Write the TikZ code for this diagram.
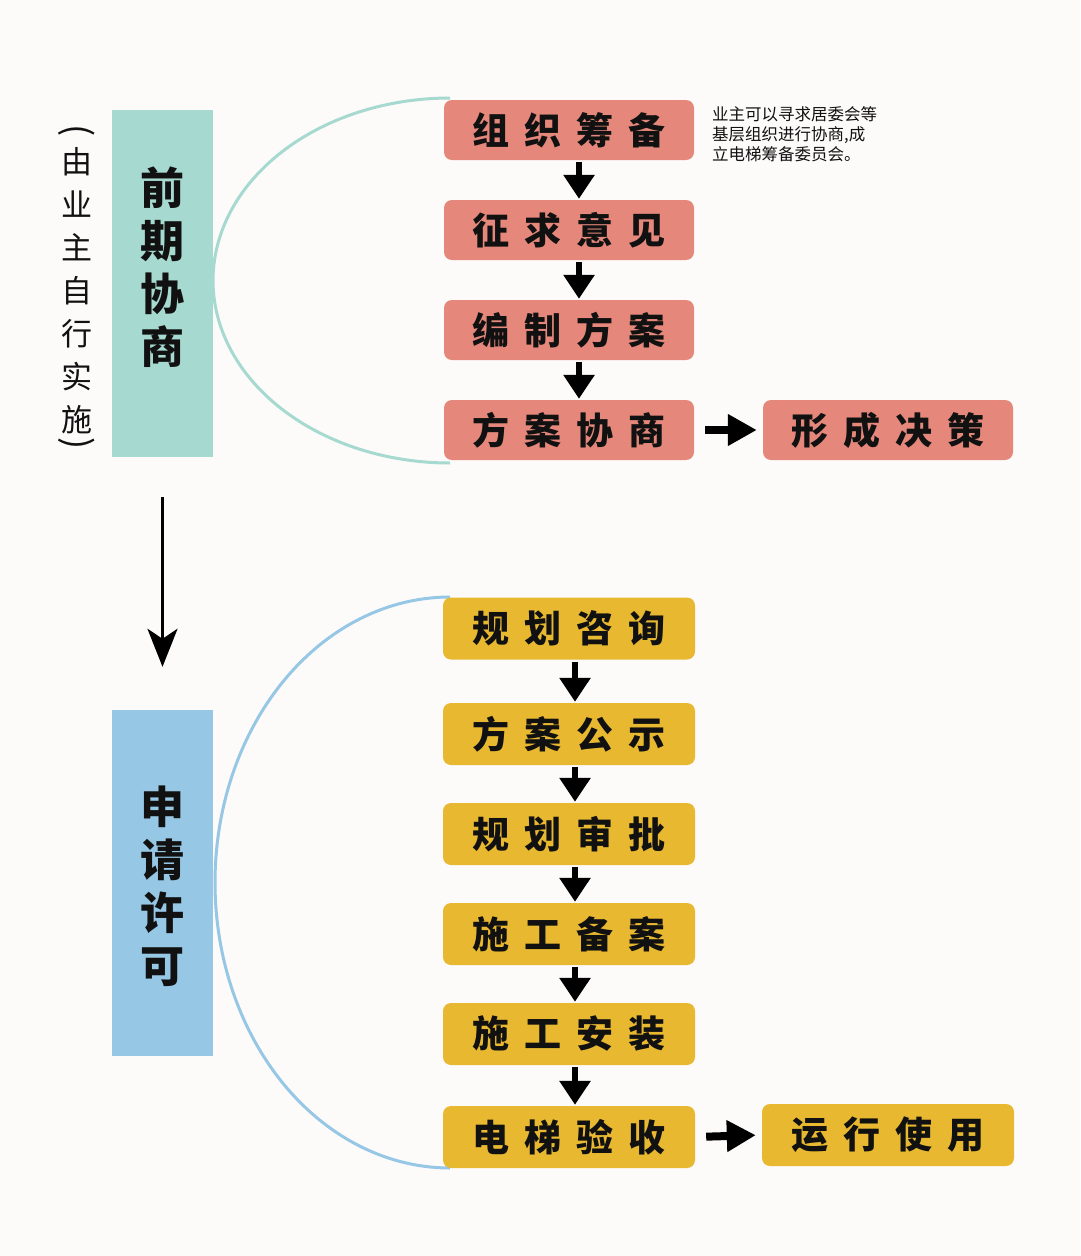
\documentclass[tikz,border=0pt]{standalone}
\usepackage{fontspec}
\setmainfont{Noto Sans CJK SC}
\usetikzlibrary{arrows.meta}
\definecolor{bgc}{HTML}{FDFAFA}
\definecolor{redbox}{HTML}{E5887B}
\definecolor{yelbox}{HTML}{E8B930}
\definecolor{tealc}{HTML}{A6D9CF}
\definecolor{bluec}{HTML}{96C7E5}
\definecolor{txt}{HTML}{111111}
\newcommand\fourc[4]{#1\kern15pt#2\kern15pt#3\kern15pt#4}
\tikzset{
  stepbox/.style={rounded corners=8pt, minimum width=250pt, minimum height=60pt, inner sep=0pt,
    text=txt, font=\fontsize{37}{40}\selectfont\bfseries},
  redb/.style={stepbox, fill=redbox},
  yelb/.style={stepbox, fill=yelbox, minimum width=252pt, minimum height=62pt},
  darr/.style={line width=6pt, -{Triangle[width=30pt,length=24pt]}, shorten <=2pt, shorten >=1pt},
  rarr/.style={line width=8pt, -{Triangle[width=30pt,length=29pt]}, shorten <=11pt, shorten >=6pt},
  phase/.style={minimum width=101pt, minimum height=347pt, inner sep=0pt},
  phasetext/.style={align=center, text=txt, font=\fontsize{44}{53}\selectfont\bfseries},
  paren/.style={rotate=-90, text=txt, font=\fontsize{36}{38}\selectfont, inner sep=0pt},
  arcline/.style={line width=3pt}
}
\begin{document}
\begin{tikzpicture}[x=1pt,y=-1pt]
\fill[bgc] (0,0) rectangle (1080,1256);
\useasboundingbox (0,0) rectangle (1080,1256);

% arcs
\draw[arcline, tealc] plot[domain=90:270, samples=120] ({450+237*cos(\x)}, {280.5+182.5*sin(\x)});
\draw[arcline, bluec] plot[domain=90:270, samples=160] ({450+235*cos(\x)}, {882.5+285.5*sin(\x)});

% left phase boxes
\node[phase, fill=tealc] (p1) at (162.5,283.5) {};
\node[phasetext] (p1t) at (162,267.5) {前\\期\\协\\商};
\node[phase, fill=bluec, minimum height=346pt] (p2) at (162.5,883) {};
\node[phasetext] (p2t) at (162,886) {申\\请\\许\\可};

% vertical note
\node[align=center, text=txt, font=\fontsize{31}{43}\selectfont] (vt) at (77,290.5) {由\\业\\主\\自\\行\\实\\施};
\node[paren] (lp) at (77,131) {(};
\node[paren] (rp) at (77,444) {)};

% red steps
\node[redb] (a1) at (569,130) {\fourc 组织筹备};
\node[redb] (a2) at (569,230) {\fourc 征求意见};
\node[redb] (a3) at (569,330) {\fourc 编制方案};
\node[redb] (a4) at (569,430) {\fourc 方案协商};
\node[redb] (a5) at (888,430) {\fourc 形成决策};

\node[anchor=north west, align=left, text=txt, inner sep=0pt, font=\fontsize{16.5}{20}\selectfont] (note) at (712,106)
  {业主可以寻求居委会等\\基层组织进行协商,成\\立电梯筹备委员会。};

\draw[darr] ([xshift=10pt]a1.south) -- ([xshift=10pt]a2.north);
\draw[darr] ([xshift=10pt]a2.south) -- ([xshift=10pt]a3.north);
\draw[darr] ([xshift=10pt]a3.south) -- ([xshift=10pt]a4.north);
\draw[rarr] (a4.east) -- (a5.west);

% yellow steps
\node[yelb] (b1) at (569,628.5) {\fourc 规划咨询};
\node[yelb] (b2) at (569,734) {\fourc 方案公示};
\node[yelb] (b3) at (569,834) {\fourc 规划审批};
\node[yelb] (b4) at (569,934) {\fourc 施工备案};
\node[yelb] (b5) at (569,1034) {\fourc 施工安装};
\node[yelb] (b6) at (569,1137) {\fourc 电梯验收};
\node[yelb] (b7) at (888,1135) {\fourc 运行使用};

\draw[darr] ([xshift=6pt]b1.south) -- ([xshift=6pt]b2.north);
\draw[darr] ([xshift=6pt]b2.south) -- ([xshift=6pt]b3.north);
\draw[darr] ([xshift=6pt]b3.south) -- ([xshift=6pt]b4.north);
\draw[darr] ([xshift=6pt]b4.south) -- ([xshift=6pt]b5.north);
\draw[darr] ([xshift=6pt]b5.south) -- ([xshift=6pt]b6.north);
\draw[rarr] (b6.east) -- (b7.west);

% phase arrow
\draw[line width=3.5pt, -{Stealth[width=30pt,length=38pt,inset=10pt]}, shorten <=40pt, shorten >=43pt] (p1.south) -- (p2.north);
\end{tikzpicture}
\end{document}
